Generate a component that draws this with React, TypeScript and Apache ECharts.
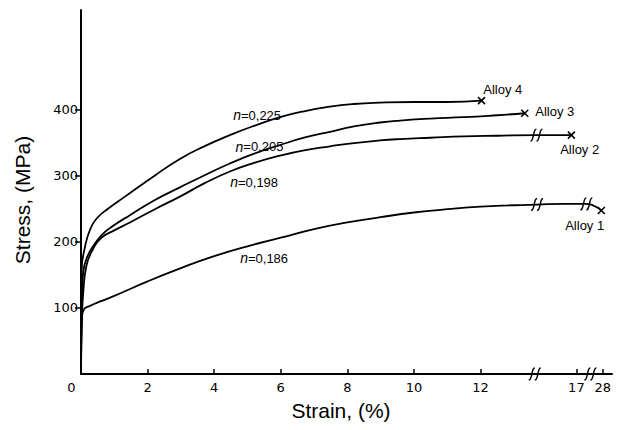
import React, { useEffect, useRef } from "react";
import * as echarts from "echarts";

// Display x-coordinate (broken axis): 0..12 linear, then 17 and 28 compressed
const xTickPositions = [0, 2, 4, 6, 8, 10, 12, 14.88, 15.67];
const xTickLabels = ["0", "2", "4", "6", "8", "10", "12", "17", "28"];
const yTickValues = [100, 200, 300, 400];
const xBreaks = [13.63, 15.3];

const alloy4: number[][] = [
  [0, 0], [0.02, 157], [0.12, 192], [0.27, 218], [0.47, 235], [0.82, 250], [1.32, 268],
  [2.22, 300], [2.97, 325], [3.7, 344], [4.47, 361], [5.2, 375], [5.98, 388], [6.7, 397],
  [7.48, 404], [8.2, 408], [8.98, 410], [10.0, 411], [11.0, 411], [12.03, 413],
];
const alloy3: number[][] = [
  [0, 0], [0.03, 120], [0.07, 155], [0.15, 172], [0.3, 188], [0.62, 210], [1.0, 225],
  [1.47, 240], [2.22, 263], [2.97, 282], [3.7, 300], [4.47, 318], [5.2, 333], [5.98, 346],
  [6.7, 357], [7.48, 366], [8.2, 374], [8.98, 380], [9.58, 383], [10.5, 386], [11.5, 388],
  [12.5, 391], [13.33, 394],
];
const alloy2: number[][] = [
  [0, 0], [0.03, 90], [0.07, 125], [0.15, 160], [0.3, 183], [0.62, 206], [1.0, 217],
  [1.47, 229], [2.22, 249], [2.97, 268], [3.7, 288], [4.47, 306], [5.2, 319], [5.98, 330],
  [6.7, 338], [7.48, 344], [8.2, 349], [8.98, 353], [9.58, 355], [10.5, 357], [11.5, 359],
  [12.5, 360], [13.68, 361], [14.73, 361],
];
const alloy1: number[][] = [
  [0, 0], [0.01, 60], [0.03, 85], [0.08, 97], [0.27, 103], [0.6, 110], [1.0, 118],
  [2.0, 140], [3.0, 160], [4.0, 178], [5.0, 193], [6.0, 206], [7.0, 219], [8.0, 229],
  [9.0, 237], [10.0, 244], [11.0, 249], [12.0, 253], [13.0, 255], [13.7, 256], [14.5, 257],
  [15.18, 257], [15.63, 247],
];

const seriesNames = ["Alloy 4", "Alloy 3", "Alloy 2", "Alloy 1"];
const nLabels = ["0,225", "0,205", "0,198", "0,186"];
const nLabelCoords = [[5.29, 391], [5.36, 343], [5.2, 290], [5.5, 175]];
const alloyLabelCoords = [[12.67, 430], [14.23, 396], [14.98, 339], [15.13, 225]];
const curveBreaks: number[][][] = [[], [], [[13.68, 361]], [[13.7, 256], [15.18, 257]]];

const BREAK_PATH =
  "path://M1,14 C3,14 3,12 4,8 C5,3 5,1 7,1 M7,14 C9,14 9,12 10,8 C11,3 11,1 13,1";
const CROSS_PATH = "path://M0,0 L10,10 M10,0 L0,10";

export default function App() {
  const ref = useRef<HTMLDivElement>(null);
  useEffect(() => {
    document.body.style.margin = "0";
    if (!ref.current) return;
    const chart = echarts.init(ref.current, undefined, { renderer: "svg" });
    const all = [alloy4, alloy3, alloy2, alloy1];
    const labelFont = "Liberation Sans";
    const series: any[] = all.map((d, i) => {
      const last = d[d.length - 1];
      const mp: any[] = [
        {
          coord: last,
          symbol: CROSS_PATH,
          symbolSize: 7,
          itemStyle: { color: "none", borderColor: "#000", borderWidth: 1.6 },
          label: { show: false },
        },
        ...curveBreaks[i].map((c) => ({
          coord: c,
          symbol: BREAK_PATH,
          symbolSize: [12, 12],
          itemStyle: { color: "none", borderColor: "#000", borderWidth: 1.4 },
          label: { show: false },
        })),
        {
          coord: nLabelCoords[i],
          symbol: "circle",
          symbolSize: 0,
          label: {
            show: true,
            position: "inside",
            formatter: "{i|n}{t|=" + nLabels[i] + "}",
            rich: {
              i: { fontStyle: "italic", fontSize: 14, fontFamily: labelFont, color: "#000" },
              t: { fontSize: 13, fontFamily: labelFont, color: "#000" },
            },
          },
        },
        {
          coord: alloyLabelCoords[i],
          symbol: "circle",
          symbolSize: 0,
          label: {
            show: true,
            position: "inside",
            formatter: seriesNames[i],
            fontSize: 13,
            fontFamily: labelFont,
            color: "#000",
          },
        },
      ];
      if (i === 3) {
        xBreaks.forEach((b) =>
          mp.push({
            coord: [b, 0],
            symbol: BREAK_PATH,
            symbolSize: [12, 12],
            itemStyle: { color: "none", borderColor: "#000", borderWidth: 1.4 },
            label: { show: false },
          })
        );
      }
      return {
        name: seriesNames[i],
        type: "line",
        data: d,
        showSymbol: false,
        smooth: 0.5,
        lineStyle: { color: "#000", width: 1.8 },
        markPoint: { silent: true, data: mp },
        z: 3,
      };
    });

    chart.setOption({
      animation: false,
      backgroundColor: "#fff",
      grid: { left: 81, top: 10, width: 531, height: 364 },
      xAxis: {
        type: "value",
        min: 0,
        max: 15.95,
        axisLine: { lineStyle: { color: "#000", width: 2 } },
        axisTick: {
          show: true,
          inside: true,
          length: 5,
          customValues: xTickPositions.slice(1),
          lineStyle: { color: "#000", width: 1.5 },
        },
        axisLabel: {
          customValues: xTickPositions,
          color: "#000",
          fontSize: 13,
          fontFamily: "DejaVu Sans",
          margin: 7,
          formatter: (v: number) => {
            const idx = xTickPositions.findIndex((p) => Math.abs(p - v) < 1e-6);
            const t = idx >= 0 ? xTickLabels[idx] : "";
            return idx === 0 ? "{o|" + t + "}" : t;
          },
          rich: {
            o: { padding: [0, 19, 0, 0], fontSize: 13, fontFamily: "DejaVu Sans", color: "#000" },
          },
        },
        splitLine: { show: false },
      },
      yAxis: {
        type: "value",
        min: 0,
        max: 550,
        axisLine: { show: true, lineStyle: { color: "#000", width: 2 } },
        axisTick: {
          show: true,
          length: 6,
          customValues: yTickValues,
          lineStyle: { color: "#000", width: 1.5 },
        },
        axisLabel: {
          customValues: yTickValues,
          color: "#000",
          fontSize: 13,
          fontFamily: "DejaVu Sans",
          margin: 3,
        },
        splitLine: { show: false },
      },
      graphic: [
        {
          type: "text",
          x: 22,
          y: 200,
          rotation: Math.PI / 2,
          style: {
            text: "Stress, (MPa)",
            fontSize: 21,
            fontFamily: "Liberation Sans",
            fill: "#000",
            align: "center",
            verticalAlign: "middle",
          },
        },
        {
          type: "text",
          x: 341,
          y: 410,
          style: {
            text: "Strain, (%)",
            fontSize: 21,
            fontFamily: "Liberation Sans",
            fill: "#000",
            align: "center",
            verticalAlign: "middle",
          },
        },
      ],
      series,
    });
    return () => chart.dispose();
  }, []);
  return <div ref={ref} style={{ width: 619, height: 430 }} />;
}
